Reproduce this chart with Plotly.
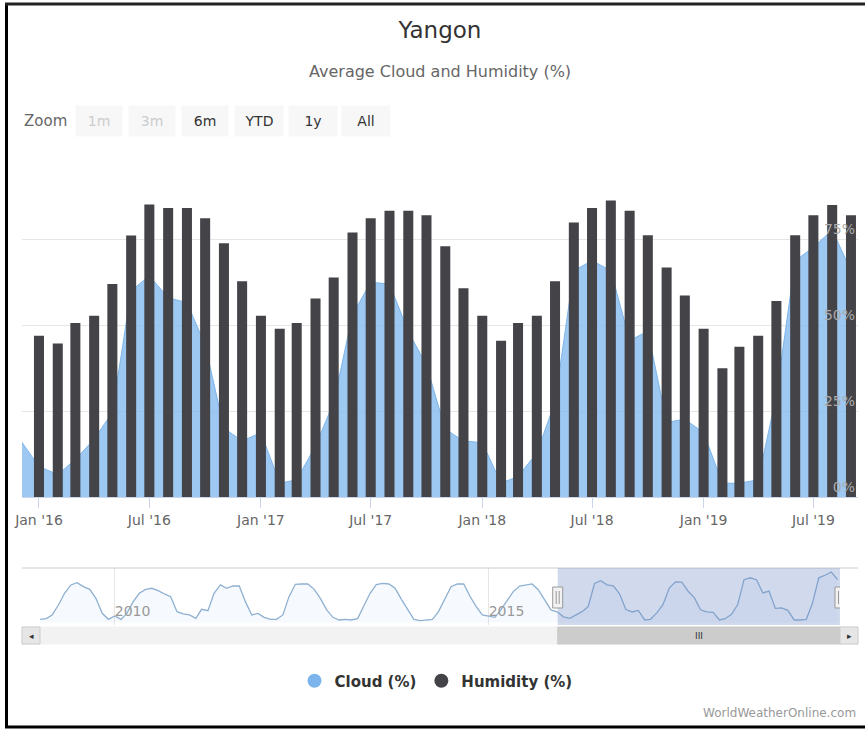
import pandas as pd
import plotly.graph_objects as go

# ---------------- data ----------------
title_text = "Yangon"
subtitle_text = "Average Cloud and Humidity (%)"
credit_text = "WorldWeatherOnline.com"

cloud_name = "Cloud (%)"
humidity_name = "Humidity (%)"

cloud_start = "2009-01-01"
cloud_2009 = [5.0, 6.1, 11.7, 27.0, 44.9, 57.7, 61.3, 55.1, 51.0, 37.2, 14.2, 5.0]
cloud_2010 = [10.2, 5.0, 14.2, 32.1, 44.9, 51.0, 52.6, 49.0, 43.9, 39.8, 16.8, 13.2]
cloud_2011 = [11.7, 6.6, 20.4, 18.3, 44.9, 57.7, 52.6, 56.1, 56.1, 32.1, 11.7, 14.2]
cloud_2012 = [8.1, 5.0, 5.0, 11.7, 39.8, 58.7, 59.2, 59.2, 51.0, 37.2, 19.4, 8.1]
cloud_2013 = [4.0, 5.0, 4.0, 6.1, 25.5, 44.9, 58.2, 60.2, 59.2, 52.6, 35.7, 20.4]
cloud_2014 = [5.0, 3.0, 3.5, 5.0, 16.8, 37.2, 55.1, 59.2, 59.2, 40.8, 24.5, 11.7]
cloud_2015 = [10.2, 8.1, 19.4, 34.7, 47.5, 56.1, 57.7, 59.2, 50.0, 34.7, 19.4, 16.6]
cloud_2016 = [8.9, 6.5, 10.9, 16.8, 24.6, 59.9, 64.3, 57.9, 56.5, 44.2, 20.0, 16.3]
cloud_2017 = [18.7, 4.0, 5.0, 14.8, 27.5, 53.0, 62.4, 61.9, 48.1, 38.3, 19.7, 16.3]
cloud_2018 = [15.8, 4.0, 6.0, 12.8, 27.6, 65.8, 68.7, 65.8, 45.5, 48.2, 21.7, 22.6]
cloud_2019 = [18.7, 4.0, 4.0, 5.0, 29.5, 68.7, 72.6, 77.6, 65.8]

humidity_start = "2016-01-01"
humidity_2016 = [46.9, 44.6, 50.6, 52.7, 61.9, 76.0, 85.0, 84.0, 84.0, 81.0, 73.8, 62.7]
humidity_2017 = [52.7, 48.9, 50.6, 57.7, 63.8, 76.9, 81.0, 83.2, 83.2, 81.9, 72.9, 60.7]
humidity_2018 = [52.7, 45.4, 50.6, 52.7, 62.7, 79.8, 84.0, 86.2, 83.2, 76.1, 66.7, 58.6]
humidity_2019 = [48.9, 37.4, 43.7, 46.9, 57.0, 76.1, 81.9, 84.9, 81.9]

view_start = "2015-12-04"
view_end = "2019-09-12 14:00"
navigator_start = "2009-01-01"

y_ticks = [0, 25, 50, 75, 100]
y_tick_labels = ["0%", "25%", "50%", "75%", ""]
nav_year_ticks = ["2010-01-01", "2015-01-01"]
nav_year_labels = ["2010", "2015"]
zoom_label = "Zoom"
zoom_buttons = ["1m", "3m", "6m", "YTD", "1y", "All"]
zoom_enabled = [False, False, True, True, True, True]

cloud = (cloud_2009 + cloud_2010 + cloud_2011 + cloud_2012 + cloud_2013 + cloud_2014
         + cloud_2015 + cloud_2016 + cloud_2017 + cloud_2018 + cloud_2019)
humidity = humidity_2016 + humidity_2017 + humidity_2018 + humidity_2019
cloud_dates = pd.date_range(cloud_start, periods=len(cloud), freq="MS")
humidity_dates = pd.date_range(humidity_start, periods=len(humidity), freq="MS")

# ---------------- layout helpers ----------------
W, H = 865, 729
FONT = "DejaVu Sans, Liberation Sans, Arial, sans-serif"


def fx(px):
    return px / W


def fy(py):
    return 1 - py / H


CLOUD_COLOR = "#7cb5ec"
HUM_COLOR = "#434348"

fig = go.Figure()

# main area (base subplot, drawn underneath)
fig.add_trace(go.Scatter(
    x=cloud_dates, y=cloud, xaxis="x", yaxis="y", mode="lines",
    line=dict(color=CLOUD_COLOR, width=1), fill="tozeroy",
    fillcolor="rgba(124,181,236,0.75)", showlegend=False, name=cloud_name,
))
# bars on an overlaid subplot so they sit above the area
fig.add_trace(go.Bar(
    x=humidity_dates, y=humidity, xaxis="x3", yaxis="y3",
    marker=dict(color=HUM_COLOR, line=dict(width=0)),
    showlegend=False, name=humidity_name,
))
# navigator series
fig.add_trace(go.Scatter(
    x=cloud_dates, y=cloud, xaxis="x2", yaxis="y2", mode="lines",
    line=dict(color="#8fb0d0", width=1.3), fill="tozeroy",
    fillcolor="rgba(124,181,236,0.07)", showlegend=False, hoverinfo="skip",
))
# legend entries
fig.add_trace(go.Scatter(x=[None], y=[None], mode="markers", name=cloud_name,
                         marker=dict(size=14, color=CLOUD_COLOR)))
fig.add_trace(go.Scatter(x=[None], y=[None], mode="markers", name=humidity_name,
                         marker=dict(size=14, color=HUM_COLOR)))

main_xdom = [fx(22), fx(858)]
main_ydom = [fy(497), fy(153)]
nav_xdom = [fx(40), fx(840)]
nav_ydom = [fy(625), fy(568)]

fig.update_layout(
    width=W, height=H,
    margin=dict(l=0, r=0, t=0, b=0),
    paper_bgcolor="white", plot_bgcolor="white",
    font=dict(family=FONT, color="#333"),
    bargap=0.41,
    hovermode=False,
    title=dict(text=title_text, x=fx(440), xref="paper", xanchor="center",
               y=fy(30), yref="container", yanchor="middle",
               font=dict(size=23, color="#333", family=FONT)),
    xaxis=dict(domain=main_xdom, anchor="y", type="date", range=[view_start, view_end],
               tickformat="%b '%y", dtick="M6", tick0="2016-01-01",
               ticks="outside", ticklen=10, tickcolor="#ccd6eb",
               showline=True, linecolor="#ccd6eb", showgrid=False, zeroline=False,
               tickfont=dict(size=14, color="#666"), automargin=False),
    yaxis=dict(domain=main_ydom, anchor="x", range=[0, 100], side="right",
               tickvals=y_ticks, showticklabels=False,
               showgrid=True, gridcolor="#e6e6e6", ticks="", zeroline=False,
               showline=False, automargin=False),
    xaxis3=dict(overlaying="x", anchor="y3", type="date", range=[view_start, view_end],
                visible=False),
    yaxis3=dict(overlaying="y", anchor="x3", range=[0, 100], side="right",
                tickvals=y_ticks, ticktext=y_tick_labels, ticklabelposition="inside top",
                showgrid=False, ticks="", zeroline=False, showline=False,
                tickfont=dict(size=14, color="#aaaaaa"), automargin=False),
    xaxis2=dict(domain=nav_xdom, anchor="y2", type="date", range=[navigator_start, view_end],
                tickvals=nav_year_ticks, ticktext=nav_year_labels,
                ticklabelposition="inside right", ticks="",
                showgrid=True, gridcolor="#e6e6e6", showline=False, zeroline=False,
                tickfont=dict(size=14, color="#999"), automargin=False),
    yaxis2=dict(domain=nav_ydom, anchor="x2", range=[-3.7, 83.7], visible=False),
    legend=dict(orientation="h", x=fx(436), xanchor="center", y=fy(681), yanchor="middle",
                font=dict(size=15, color="#333", family=FONT, weight="bold"),
                bgcolor="rgba(0,0,0,0)", itemclick=False),
)

annotations = [
    dict(text=subtitle_text, x=fx(440), y=fy(71), xanchor="center", yanchor="middle",
         font=dict(size=16, color="#666")),
    dict(text=zoom_label, x=fx(22), y=fy(121), xanchor="left", yanchor="middle",
         font=dict(size=15, color="#666")),
    dict(text=credit_text, x=fx(858), y=fy(713), xanchor="right", yanchor="middle",
         font=dict(size=12, color="#999")),
    dict(text="◂", x=fx(31), y=fy(635.5), xanchor="center", yanchor="middle",
         font=dict(size=9, color="#333")),
    dict(text="▸", x=fx(849), y=fy(635.5), xanchor="center", yanchor="middle",
         font=dict(size=9, color="#333")),
]
btn_left = [77, 130, 183, 236, 290, 343]
btn_width = [44, 44, 44, 46, 46, 46]
for label, enabled, left, w in zip(zoom_buttons, zoom_enabled, btn_left, btn_width):
    annotations.append(dict(
        text=label, x=fx(left + w / 2), y=fy(121), xanchor="center", yanchor="middle",
        width=w, height=28, bgcolor="#f7f7f7", borderpad=1,
        font=dict(size=14, color="#333" if enabled else "#cccccc")))

t0, t1 = pd.Timestamp(view_start), pd.Timestamp(view_end)
mid = t0 + (t1 - t0) / 2
annotations.append(dict(text="III", xref="x2", yref="paper", x=mid, y=fy(635.5),
                        xanchor="center", yanchor="middle", showarrow=False,
                        font=dict(size=9, color="#333")))
for a in annotations:
    a.setdefault("xref", "paper")
    a.setdefault("yref", "paper")
    a["showarrow"] = False
fig.update_layout(annotations=annotations)

shapes = []
# frame
shapes.append(dict(type="line", xref="paper", yref="paper", x0=fx(6.5), x1=fx(6.5),
                   y0=fy(3), y1=fy(728), line=dict(color="black", width=3)))
shapes.append(dict(type="line", xref="paper", yref="paper", x0=fx(5), x1=1,
                   y0=fy(4), y1=fy(4), line=dict(color="#222", width=3)))
shapes.append(dict(type="line", xref="paper", yref="paper", x0=fx(5), x1=1,
                   y0=fy(727), y1=fy(727), line=dict(color="black", width=3)))
# navigator outline top
shapes.append(dict(type="line", xref="paper", yref="paper", x0=fx(22), x1=fx(858),
                   y0=fy(568), y1=fy(568), line=dict(color="#cccccc", width=1)))
# navigator selected mask
shapes.append(dict(type="rect", xref="x2", yref="paper", x0=view_start, x1=view_end,
                   y0=fy(625), y1=fy(568), fillcolor="rgba(102,133,194,0.3)",
                   line=dict(width=0), layer="above"))
# scrollbar track and buttons
shapes.append(dict(type="rect", xref="paper", yref="paper", x0=fx(22), x1=fx(858),
                   y0=fy(644), y1=fy(627), fillcolor="#f2f2f2", line=dict(color="#f2f2f2", width=1)))
shapes.append(dict(type="rect", xref="paper", yref="paper", x0=fx(22), x1=fx(40),
                   y0=fy(644), y1=fy(627), fillcolor="#e6e6e6", line=dict(color="#cccccc", width=1)))
shapes.append(dict(type="rect", xref="paper", yref="paper", x0=fx(840), x1=fx(858),
                   y0=fy(644), y1=fy(627), fillcolor="#e6e6e6", line=dict(color="#cccccc", width=1)))
shapes.append(dict(type="rect", xref="x2", yref="paper", x0=view_start, x1=view_end,
                   y0=fy(644), y1=fy(627), fillcolor="#cccccc", line=dict(color="#cccccc", width=1)))
# navigator handles
for anchor in (view_start, view_end):
    shapes.append(dict(type="rect", xref="x2", yref="paper", xsizemode="pixel", xanchor=anchor,
                       x0=-5, x1=5, y0=fy(608), y1=fy(587), fillcolor="#f2f2f2",
                       line=dict(color="#999", width=1), layer="above"))
    for off in (-1.5, 1.5):
        shapes.append(dict(type="line", xref="x2", yref="paper", xsizemode="pixel", xanchor=anchor,
                           x0=off, x1=off, y0=fy(604), y1=fy(591),
                           line=dict(color="#999", width=1), layer="above"))
fig.update_layout(shapes=shapes)

fig.write_html("out.html",
               config={"displayModeBar": False},
               post_script="document.body.style.margin='0';document.body.style.overflow='hidden';")
